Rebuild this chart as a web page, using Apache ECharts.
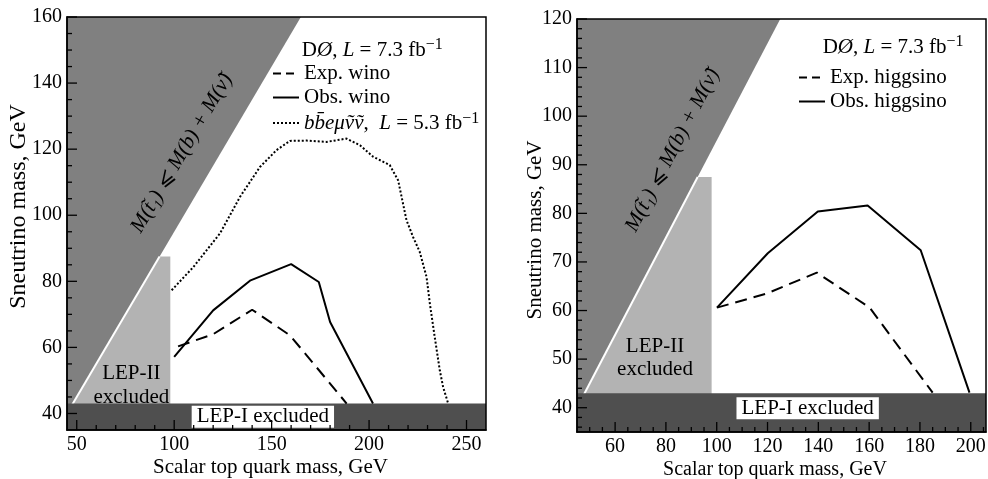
<!DOCTYPE html>
<html lang="en">
<head>
<meta charset="UTF-8">
<title>Stop - sneutrino limits</title>
<style>
  body { margin: 0; background: #fff; }
  #main { width: 988px; height: 479px; }
</style>
<script src="https://cdnjs.cloudflare.com/ajax/libs/echarts/6.0.0/echarts.min.js"></script>
</head>
<body>
<div id="main"></div>
<script>
// ---- left panel: wino ----
const winoExp = [[102, 60.3], [120, 64], [140, 71.4], [159.5, 63.6], [188.5, 43]];
const winoObs = [[100, 57.1], [120, 71.2], [139.2, 80.3], [160, 85.2], [174.2, 79.8], [180, 67.7], [202, 43]];
const bbemunu = [[98.7, 77.3], [109.8, 84.3], [123.5, 94.5], [133.7, 105.5], [144, 114.6], [152.5, 119.7],
  [159.4, 122.5], [168, 122.6], [178.2, 122.2], [188.4, 123.2], [195.3, 121.2], [202.1, 117.7], [210.6, 115.2],
  [214.9, 110.6], [219.2, 98.5], [222.6, 93.4], [226, 88.9], [229.5, 81.3], [231.2, 73.2], [233.7, 63.1],
  [236.3, 53], [238, 48], [240.5, 43.2]];

// ---- right panel: higgsino ----
const higgsExp = [[100.1, 60.6], [119.7, 63.5], [139.4, 67.8], [160.2, 60.6], [185, 43.1]];
const higgsObs = [[100.1, 60.6], [120.1, 71.8], [139.8, 80.4], [159.4, 81.6], [180.3, 72.4], [199.5, 43.1]];

// ---- excluded regions ----
const kinLeft = [[45, 40], [165, 160], [45, 160]];
const kinRight = [[45, 40], [125, 120], [45, 120]];
const lep2 = [[45, 40], [92.5, 87.5], [98, 87.5], [98, 40]];
const lep1Left = [[45, 35], [260, 35], [260, 43], [45, 43]];
const lep1Right = [[45, 35], [206, 35], [206, 43], [45, 43]];

// ---- axis ranges and ticks ----
const rangeL = { x: [45, 260], y: [35, 160] };
const rangeR = { x: [45, 206], y: [35, 120] };
const xLabL = [50, 100, 150, 200, 250];
const xMinL = [60, 70, 80, 90, 110, 120, 130, 140, 160, 170, 180, 190, 210, 220, 230, 240];
const yLabL = [40, 60, 80, 100, 120, 140, 160];
const yMinL = [45, 50, 55, 65, 70, 75, 85, 90, 95, 105, 110, 115, 125, 130, 135, 145, 150, 155];
const xLabR = [60, 80, 100, 120, 140, 160, 180, 200];
const xMinR = [50, 55, 65, 70, 75, 85, 90, 95, 105, 110, 115, 125, 130, 135, 145, 150, 155, 165, 170, 175,
  185, 190, 195, 205];
const yLabR = [40, 50, 60, 70, 80, 90, 100, 110, 120];
const yMinR = [36, 38, 42, 44, 46, 48, 52, 54, 56, 58, 62, 64, 66, 68, 72, 74, 76, 78, 82, 84, 86, 88,
  92, 94, 96, 98, 102, 104, 106, 108, 112, 114, 116, 118];

const FONT = "'Liberation Serif', 'DejaVu Serif', serif";
const DARK = '#808080', LIGHT = '#b3b3b3', BAND = '#4f4f4f';

const chart = echarts.init(document.getElementById('main'));

// nameStyle: [fontSize, padding, gap]
function axis(grid, range, labels, isX, nameStyle) {
  return {
    type: 'value', gridIndex: grid, min: range[0], max: range[1], z: 10,
    name: isX ? 'Scalar top quark mass, GeV' : 'Sneutrino mass, GeV',
    nameLocation: 'middle', nameGap: nameStyle[2],
    nameMoveOverlap: false,
    nameTextStyle: { fontFamily: FONT, fontSize: nameStyle[0], color: '#000', padding: nameStyle[1] },
    axisLine: { show: true, lineStyle: { color: '#000', width: 1.5 } },
    axisTick: { show: false },
    axisLabel: { show: true, customValues: labels, margin: 5, fontFamily: FONT, fontSize: 20, color: '#000' },
    splitLine: { show: false }
  };
}

// inward tick marks along the bottom (x) or left (y) edge, placed through the axis scale
function ticks(ax, range, values, isX, len) {
  const data = values.map(v => isX ? [v, range.y[0]] : [range.x[0], v]);
  return {
    type: 'custom', xAxisIndex: ax, yAxisIndex: ax, z: 8, silent: true, data: data,
    renderItem: (params, api) => {
      const p = api.coord([api.value(0), api.value(1)]);
      const q = isX ? [p[0], p[1] - len] : [p[0] + len, p[1]];
      return { type: 'line', shape: { x1: p[0], y1: p[1], x2: q[0], y2: q[1] },
        style: { stroke: '#000', lineWidth: 1.3 } };
    }
  };
}

function poly(ax, pts, color) {
  return {
    type: 'custom', xAxisIndex: ax, yAxisIndex: ax, z: 1, silent: true, data: pts,
    renderItem: (params, api) => {
      if (params.dataIndex !== 0) return null;
      return { type: 'polygon', shape: { points: pts.map(p => api.coord(p)) }, style: { fill: color } };
    }
  };
}
function whiteEdge(ax, pts) {
  return {
    type: 'custom', xAxisIndex: ax, yAxisIndex: ax, z: 1, silent: true, data: [pts[0]],
    renderItem: (params, api) => {
      const a = api.coord(pts[0]), b = api.coord(pts[1]);
      return { type: 'line', shape: { x1: a[0], y1: a[1], x2: b[0], y2: b[1] }, style: { stroke: '#fff', lineWidth: 2 } };
    }
  };
}
function text(ax, pos, txt, opts) {
  opts = opts || {};
  return {
    type: 'custom', xAxisIndex: ax, yAxisIndex: ax, z: opts.z || 5, silent: true, data: [pos],
    renderItem: (params, api) => {
      const p = api.coord(pos);
      let rot = 0;
      if (opts.along) {
        const a = api.coord(opts.along[0]), b = api.coord(opts.along[1]);
        rot = Math.atan2(a[1] - b[1], b[0] - a[0]);
      }
      return {
        type: 'text', x: p[0], y: p[1], rotation: rot,
        style: Object.assign({
          text: txt, fontFamily: FONT, fontSize: 20, fill: '#000',
          align: opts.align || 'center', verticalAlign: 'middle'
        }, opts.style || {})
      };
    }
  };
}
function curve(name, ax, data, type) {
  return {
    name: name, type: 'line', xAxisIndex: ax, yAxisIndex: ax, z: 3, data: data,
    symbol: 'none', showSymbol: false, silent: true, animation: false,
    itemStyle: { color: '#000' },
    lineStyle: { color: '#000', width: 2, type: type }
  };
}

const richLegend = {
  i: { fontStyle: 'italic', fontFamily: FONT, fontSize: 21, color: '#000', lineHeight: 24 },
  n: { fontFamily: FONT, fontSize: 21, color: '#000', lineHeight: 24 },
  s: { fontFamily: FONT, fontSize: 16, color: '#000', verticalAlign: 'top', lineHeight: 16 }
};
const richHead = {
  i: { fontStyle: 'italic', fontFamily: FONT, fontSize: 21, fill: '#000', lineHeight: 26 },
  n: { fontFamily: FONT, fontSize: 21, fill: '#000', lineHeight: 26 },
  s: { fontFamily: FONT, fontSize: 16, fill: '#000', verticalAlign: 'top', lineHeight: 18 }
};
const HEAD = '{n|D}{i|\u00d8}{n|, }{i|L}{n| = 7.3 fb}{s|\u22121}';
const STOPLINE = 'M(t\u0303\u2081) \u2a7d M(b) + M(\u03bd\u0303)';

function legend(left, top, items) {
  return {
    left: left, top: top, orient: 'vertical', itemWidth: 26, itemHeight: 14, itemGap: 3,
    selectedMode: false, padding: 0,
    itemStyle: { opacity: 0 },
    textStyle: { fontFamily: FONT, fontSize: 21, color: '#000', rich: richLegend },
    formatter: n => n === 'bbemunu'
      ? '{i|bb\u0304e\u03bc\u1e7d\u1e7d}{n|,  }{i|L}{n| = 5.3 fb}{s|\u22121}'
      : '{n|' + n + '}',
    data: items
  };
}

const gridBase = { show: true, borderColor: '#000', borderWidth: 1.5, z: 10, containLabel: false, outerBoundsMode: 'none' };

const option = {
  animation: false,
  grid: [
    Object.assign({ left: 67, top: 17, width: 419, height: 413 }, gridBase),
    Object.assign({ left: 577, top: 19, width: 409, height: 413 }, gridBase)
  ],
  xAxis: [
    axis(0, rangeL.x, xLabL, true, [21, [0, 12, 0, 0], 27]),
    axis(1, rangeR.x, xLabR, true, [20, [0, 13, 0, 0], 28])
  ],
  yAxis: [
    axis(0, rangeL.y, yLabL, false, [24, [0, 0, 0, 34], 36]),
    axis(1, rangeR.y, yLabR, false, [21, [0, 9, 0, 0], 31])
  ],
  legend: [
    legend(272, 63, [
      { name: 'Exp. wino', lineStyle: { type: [8, 5] } },
      { name: 'Obs. wino' },
      { name: 'bbemunu', lineStyle: { type: [2, 2] } }
    ]),
    legend(798, 67, [
      { name: 'Exp. higgsino', lineStyle: { type: [8, 5] } },
      { name: 'Obs. higgsino' }
    ])
  ],
  series: [
    // left panel regions
    poly(0, kinLeft, DARK),
    poly(0, lep2, LIGHT),
    whiteEdge(0, [[45, 40], [92.5, 87.5]]),
    poly(0, lep1Left, BAND),
    // right panel regions
    poly(1, kinRight, DARK),
    poly(1, lep2, LIGHT),
    whiteEdge(1, [[45, 40], [92.5, 87.5]]),
    poly(1, lep1Right, BAND),
    // tick marks
    ticks(0, rangeL, xLabL, true, 10), ticks(0, rangeL, xMinL, true, 5),
    ticks(0, rangeL, yLabL, false, 10), ticks(0, rangeL, yMinL, false, 5),
    ticks(1, rangeR, xLabR, true, 10), ticks(1, rangeR, xMinR, true, 5),
    ticks(1, rangeR, yLabR, false, 10), ticks(1, rangeR, yMinR, false, 5),
    // curves
    curve('Exp. wino', 0, winoExp, [12, 7]),
    curve('Obs. wino', 0, winoObs, 'solid'),
    curve('bbemunu', 0, bbemunu, [2, 2]),
    curve('Exp. higgsino', 1, higgsExp, [12, 7]),
    curve('Obs. higgsino', 1, higgsObs, 'solid'),
    // annotations
    text(0, [145.5, 39], 'LEP-I excluded', { style: { fontSize: 21, backgroundColor: '#fff', padding: [1, 5, 0, 5] }, z: 6 }),
    text(1, [135.8, 39.9], 'LEP-I excluded', { style: { fontSize: 21, backgroundColor: '#fff', padding: [1, 5, 0, 5] }, z: 6 }),
    text(0, [78, 48.5], 'LEP-II\nexcluded', { style: { fontSize: 21, lineHeight: 24 } }),
    text(1, [75.7, 50.3], 'LEP-II\nexcluded', { style: { fontSize: 21, lineHeight: 23 } }),
    text(0, [104, 118.8], STOPLINE, { along: [[45, 40], [165, 160]], style: { fontStyle: 'italic', fontSize: 21 } }),
    text(1, [82.7, 93], STOPLINE, { along: [[45, 40], [125, 120]], style: { fontStyle: 'italic', fontSize: 21 } }),
    text(0, [165.5, 150], HEAD, { align: 'left', style: { rich: richHead } }),
    text(1, [141.7, 114.2], HEAD, { align: 'left', style: { rich: richHead } })
  ]
};
chart.setOption(option);
</script>
</body>
</html>
